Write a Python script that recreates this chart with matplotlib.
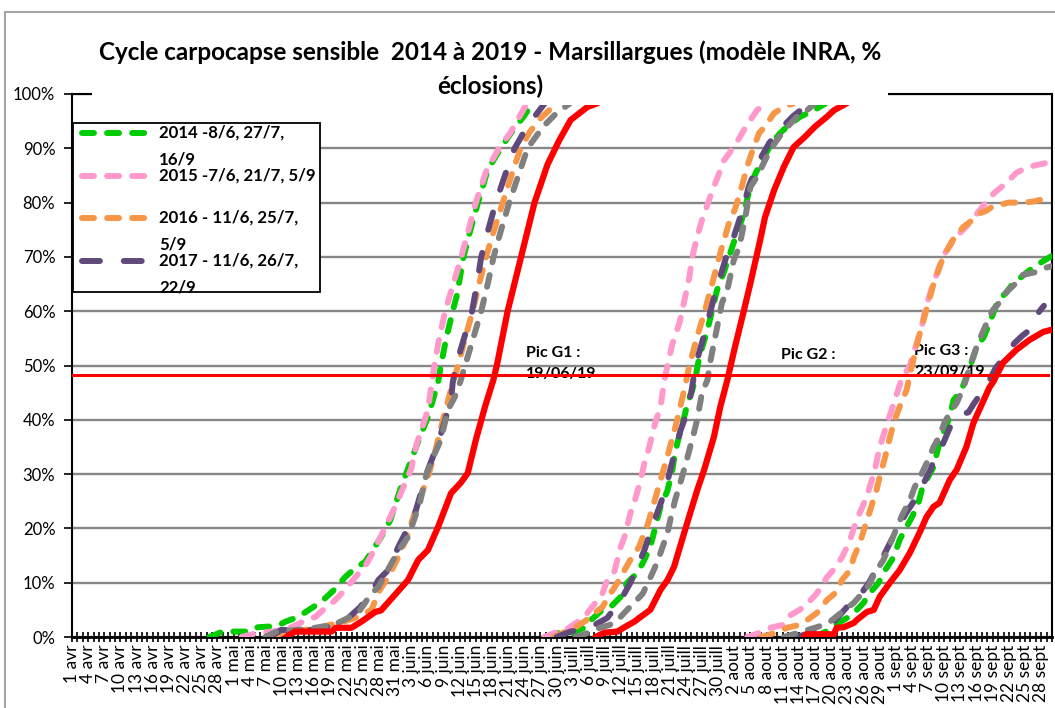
import numpy as np
import pandas as pd
import matplotlib
matplotlib.use('Agg')
import matplotlib.pyplot as plt
from matplotlib.lines import Line2D
from matplotlib.patches import Rectangle

plt.rcParams['font.family'] = ['Lato', 'DejaVu Sans']

# (jour depuis le 1er avril, % eclosions) pour G1, G2, G3
courbe_2014 = [
    [(25.5, 0), (28, 1), (33, 1), (34.5, 1.8), (38, 2), (39.6, 2.8), (42, 3.7), (44, 5), (46.3, 6.5),
     (48.5, 8.5), (50.7, 11), (52.6, 12.7), (54.4, 13.8), (57.4, 18.4), (59.1, 21.5), (61.1, 27.6),
     (62.4, 31), (64.3, 36), (66.1, 40.5), (68, 47), (68.6, 50.5), (69.5, 55), (70.7, 60), (71.5, 63),
     (72.7, 70), (74, 75), (75.4, 80), (77.2, 86), (79.6, 90), (82, 93.5), (84, 96), (85.5, 98.3)],
    [(88.3, 0), (90, 0.7), (92.6, 0.7), (95.2, 1.7), (96, 2.8), (98.5, 5), (100, 5.5), (101.9, 7.4),
     (103.1, 10), (105, 11.8), (106.3, 14.2), (107.4, 16.6), (108.1, 19.3), (109.3, 24), (110.6, 27),
     (111.5, 30.8), (112, 34), (113, 38), (113.7, 40.5), (114.3, 43), (115.2, 45.5), (115.7, 47.3),
     (116.5, 51.6), (118, 56.5), (119.8, 63.9), (121, 67), (122, 70), (123.5, 74.4), (124.8, 78),
     (125.9, 82.9), (127, 85.5), (128.5, 88.4), (130, 91), (131.5, 92.8), (132.8, 94), (135.2, 95.8),
     (137.8, 97), (140, 98.3)],
    [(138, 0), (140, 1), (141.1, 1.8), (143.9, 3.5), (145.2, 4.4), (147, 6.3), (148.1, 8), (149.8, 10),
     (151, 12.3), (152.6, 14.7), (153.7, 17.9), (155, 20.3), (156, 22.1), (157.2, 24.7), (157.8, 27),
     (159, 29.5), (160, 31.3), (160.9, 35), (161.8, 37.6), (163, 40.5), (163.7, 43.6), (165.2, 45.5),
     (166.5, 49), (168, 53.4), (169.3, 55.2), (170.4, 57.8), (171.3, 60.2), (172, 62), (173.5, 63.4),
     (174.8, 65.2), (176.3, 66.3), (178.5, 68.1), (182, 70.2)],
]
courbe_2015 = [
    [(31.5, 0), (34.3, 0.7), (37, 1), (39, 1.2), (40.7, 1.8), (43.3, 3), (45.2, 3.7), (47, 5.3),
     (48.9, 6.8), (50.7, 8.7), (52.6, 11), (54.4, 13), (55.4, 14.7), (58.1, 20), (60, 24), (61.5, 27.5),
     (63, 31), (64, 35.5), (66.1, 41.8), (66.7, 46), (67.3, 50), (68, 54), (69.3, 60), (70.8, 65),
     (72.3, 70), (75, 80), (77, 86), (79.3, 90), (81.5, 93), (84.5, 98.3)],
    [(87.7, 0), (90.2, 1), (91.7, 1.3), (93.9, 2.8), (95.7, 4.4), (97.6, 6.8), (98.5, 8), (99.4, 10.5),
     (100.7, 12), (101.9, 16.6), (102.6, 18.4), (103.7, 22.8), (104.4, 24.7), (105.6, 28.9), (106.3, 32),
     (107.2, 35), (108.3, 39.4), (109.3, 42.4), (110, 47.3), (110.6, 50), (111.5, 54), (112.8, 57.8),
     (113.3, 60), (114.6, 66), (115.2, 70), (116.1, 73.7), (117, 76.8), (118.5, 81), (119.2, 82.9),
     (121.1, 87.8), (122, 89), (124, 92), (124.8, 93.4), (127.2, 97), (129, 98.3)],
    [(125.4, 0), (127.5, 0.7), (129.7, 1.7), (131.9, 2.2), (133.4, 4), (135.6, 5.3), (136.8, 6.4),
     (138.3, 8), (140.2, 11), (141.7, 12.7), (143, 14.7), (144.3, 17.3), (145.7, 21.5), (147.6, 25.8),
     (149.1, 30.8), (150, 35), (151, 38.1), (152.8, 43.6), (154, 47.3), (155.6, 50), (156.5, 53),
     (157.8, 57), (158.5, 60.5), (159.6, 64), (161, 68), (162, 70.5), (164, 73.5), (166, 75.5),
     (168.5, 78.5), (170.5, 81), (171.3, 81.8), (173.5, 83.6), (175.4, 85.5), (177.2, 86.4),
     (179, 86.9), (182, 87.5)],
]
courbe_2016 = [
    [(37, 0), (40, 1), (45, 1.5), (49, 2.5), (51.3, 3.1), (53.1, 3.7), (55.6, 5), (57.2, 8.7), (58.7, 11),
     (60.6, 14.7), (62, 17.9), (63.2, 21.5), (64.3, 24.7), (66.1, 29.5), (67.4, 34), (68.3, 37.6),
     (69.2, 41.2), (70.2, 44.9), (71.7, 50), (73, 55), (74.4, 60), (75.6, 65), (76.9, 70), (78.4, 75),
     (80, 80), (81.6, 85), (83.3, 90), (85, 93), (87, 95.5), (90, 98.3)],
    [(89.5, 0), (91.7, 1), (93.5, 1.8), (95.4, 3), (97, 4.4), (98.5, 5.5), (100, 8), (101.3, 10),
     (102.6, 12.3), (103.7, 14.2), (105.3, 16.6), (107, 21), (109.3, 28.9), (110.5, 33), (112.4, 40),
     (113.7, 45.5), (114.6, 49.7), (116, 55), (117.4, 59.6), (119, 65.5), (120.7, 71.8), (122, 76.2),
     (123.2, 79), (124.4, 83), (125.5, 87), (126.6, 90.2), (127.6, 92.8), (128.7, 94), (130.4, 96.5),
     (132.2, 97.6), (134, 98.3)],
    [(128, 0), (130.4, 0.7), (132.8, 1.7), (135, 2.2), (136.5, 3.1), (138.3, 4.4), (140.2, 6.8), (142, 8.3),
     (143, 10.5), (144.5, 12.3), (145.2, 14.7), (146.3, 17.3), (147.8, 22), (149.4, 27), (150, 29.5),
     (151, 33.1), (151.9, 36.8), (152.8, 40), (153.7, 42.4), (155, 45.5), (156, 50), (157.2, 55),
     (158.6, 60), (160, 65), (161.8, 70), (163.5, 73), (165.5, 75.5), (167.5, 77), (168.5, 78),
     (169.8, 78.5), (171, 79.3), (172, 79.5), (173.9, 80), (176.7, 80), (178.5, 80.2), (182, 81)],
]
courbe_2017 = [
    [(36.8, 0), (38.8, 1.3), (45, 1.3), (48, 2), (51.3, 3.5), (53.5, 5.5), (55.5, 8), (56.9, 10.5),
     (58.7, 12.3), (60.6, 16.6), (62, 19.3), (63.7, 22.8), (64.8, 26.5), (66.1, 30.8), (68, 35.7),
     (68.9, 38.7), (70.4, 43.6), (70.7, 46.8), (71.3, 50), (72.8, 55), (74.3, 60), (75.2, 65), (76, 70),
     (77.3, 75), (78.7, 80), (80.4, 85), (82.2, 90), (84.5, 94), (87.8, 98.3)],
    [(90, 0), (92.6, 1), (95, 1.5), (97, 2.2), (99.4, 3.5), (101.9, 6.8), (103.7, 10), (105, 12.9),
     (106.3, 16), (108, 21), (110.2, 27), (111.1, 30.8), (113, 38), (113.9, 40.5), (115, 45), (115.8, 50),
     (117.5, 56), (119.5, 63.5), (121.5, 70), (123, 74), (124.5, 78.5), (125.7, 83), (127.5, 87.5),
     (129.5, 91), (131.5, 93.5), (134, 96), (137, 98.3)],
    [(134.6, 0), (136.9, 0.7), (139.6, 2.2), (141.5, 2.8), (143.9, 5.5), (145.7, 6.8), (148, 10),
     (150, 13.6), (151, 15.5), (153, 19.5), (155, 23), (156.9, 25.8), (157.8, 27.6), (159.5, 31),
     (160.6, 33.9), (161.8, 35.7), (163, 38.5), (164, 40.5), (166.5, 41.4), (167.5, 43), (168.9, 45),
     (170.4, 47.3), (171.5, 49.5), (173.2, 51.6), (175, 54.1), (176.5, 55.5), (177.8, 56.5),
     (179.6, 59.9), (180.5, 61)],
]
courbe_2018 = [
    [(35.9, 0), (38, 1), (44, 1.5), (47, 2), (49.4, 2.6), (53.1, 4.4), (55.6, 8), (56.9, 9.2), (59, 13),
     (61.1, 16.6), (62.4, 18.4), (63.5, 21.5), (64.6, 24.7), (65.7, 29.5), (67, 33), (68.5, 36.3),
     (69.8, 41.8), (71.1, 44.2), (72.2, 47.3), (73, 50), (74.5, 55), (76, 60), (77.2, 65), (78.3, 70),
     (79.7, 75), (81.2, 80), (82.9, 85), (84.6, 90), (87.5, 94), (90, 96.5), (92.5, 98.3)],
    [(93.5, 0), (95.7, 0.7), (98, 1.7), (99.8, 2.2), (101.3, 3.1), (103.1, 5), (104.4, 6.3), (106, 8),
     (107.2, 10.5), (108.3, 12.9), (109.3, 15.5), (110.6, 19.2), (111.1, 21.5), (112, 25.2),
     (113.3, 29.5), (114.3, 33.1), (115.5, 37.6), (116.1, 40), (117, 45), (118, 47.3), (118.5, 50.5),
     (119.6, 56), (120.7, 61.5), (121.7, 63.9), (122.9, 69.4), (123.9, 71.8), (125, 77), (126, 82.9),
     (127.2, 84.7), (129, 88.4), (130, 90.2), (132, 93), (134.6, 95.8), (136.5, 97), (138, 98.3)],
    [(132.2, 0), (134.6, 0.7), (138.3, 1.8), (140.5, 2.6), (142, 3.8), (143.5, 5), (145.2, 6.3),
     (146.7, 8), (148, 9.6), (149.1, 11.8), (150.7, 14.2), (151.7, 16.6), (152.8, 19.2), (154.2, 22.5),
     (155.6, 25.2), (156.5, 27.6), (158, 30.5), (159, 32.6), (160, 35), (161, 36.8), (162, 39.4),
     (163, 41.2), (164.3, 43.1), (165.6, 46), (167, 50.5), (168.2, 54), (169.3, 56.5), (170.4, 59),
     (171, 60.2), (172.6, 62), (173.5, 63.5), (175.9, 65.7), (176.6, 66.7), (179, 67.2), (180.4, 67.9),
     (182, 68.3)],
]
courbe_2019 = [
    [(39.8, 0), (41.4, 1), (48.2, 1), (49, 1.7), (51.9, 1.7), (53.7, 2.8), (56.3, 4.6), (57.4, 4.9),
     (60, 7.8), (62.4, 10.5), (64.3, 14.2), (66.1, 16), (68, 20.3), (70.4, 26.5), (72.2, 28.4),
     (73.5, 30.2), (75, 36.3), (76.7, 42.4), (78.3, 47.5), (79, 50.5), (80.9, 60), (83.4, 70),
     (85.9, 80), (88.3, 87), (90.5, 91.5), (92.6, 95.2), (95.7, 97.6), (97.6, 98.3)],
    [(97.2, 0), (98.9, 0.8), (101.3, 1), (102.6, 1.8), (104.4, 2.8), (105.6, 3.7), (107.4, 5),
     (109.3, 8.7), (110.6, 10.5), (111.8, 12.9), (113.7, 19.2), (114.8, 22.8), (116.1, 27),
     (117.4, 30.8), (119.2, 36.8), (120.4, 42.4), (121.7, 47.3), (123, 52.9), (124.8, 60.2),
     (126, 65.2), (127.8, 73.1), (128.7, 77.3), (130.4, 82.3), (132.2, 86.6), (134, 90.2), (136, 92),
     (138, 94), (140.2, 95.8), (141.5, 97), (143.9, 98.3)],
    [(135.9, 0), (136.5, 0.5), (141.5, 0.5), (142, 1.7), (143.3, 1.8), (145.2, 2.6), (145.7, 3.1),
     (147.6, 4.6), (148.9, 5), (150, 7.4), (151.9, 10), (153.7, 12.3), (155.6, 15.5), (157.4, 19.2),
     (158.7, 22.1), (160, 24), (161.1, 24.7), (163, 28.9), (164.3, 30.8), (166.1, 35), (167.4, 39.4),
     (169.3, 43.6), (170.4, 46), (171.1, 47), (172.9, 50.5), (175.4, 52.9), (177.8, 54.7),
     (180.4, 56.2), (182, 56.6)],
]

legendes = ['2014 -8/6, 27/7,\n16/9', '2015 -7/6, 21/7, 5/9', '2016 - 11/6, 25/7,\n5/9',
            '2017 - 11/6, 26/7,\n22/9']
mois = {4: 'avr', 5: 'mai', 6: 'juin', 7: 'juill', 8: 'aout', 9: 'sept'}
dates = pd.date_range('2019-04-01', '2019-09-30')
seuil = 48.3


def trace(gens):
    xs, ys = [], []
    for g in gens:
        d, p = zip(*g)
        xs += list(d) + [np.nan]
        ys += list(p) + [np.nan]
    return xs, ys


W, H = 1055, 708
fig = plt.figure(figsize=(W / 100, H / 100), dpi=100)
ax = fig.add_axes([72 / W, 1 - 637 / H, 980 / W, 543 / H])

styles = [
    (courbe_2014, '#00CC00', (2.0, 2.2)),
    (courbe_2015, '#FF99CC', (2.0, 2.2)),
    (courbe_2016, '#F79646', (2.0, 2.2)),
    (courbe_2017, '#604A7B', (3.0, 4.0)),
    (courbe_2018, '#808080', (2.0, 2.2)),
]
for gens, col, dash in styles:
    x, y = trace(gens)
    ax.plot(x, y, color=col, lw=4.3, dashes=dash, dash_capstyle='round', solid_capstyle='round', zorder=3)
x, y = trace(courbe_2019)
ax.plot(x, y, color='#FF0000', lw=4.5, solid_capstyle='round', solid_joinstyle='round', zorder=3)

ax.axhline(seuil, xmin=0, xmax=0.996, color='#FF0000', lw=2.2, zorder=4)

ax.text(84.3, 50.4, 'Pic G1 :\n19/06/19', fontsize=11.5, fontweight='bold', va='center', linespacing=1.65, zorder=2)
ax.text(131.7, 51.9, 'Pic G2 :', fontsize=11.5, fontweight='bold', va='center', zorder=2)
ax.text(156.4, 50.7, 'Pic G3 :\n23/09/19', fontsize=11.5, fontweight='bold', va='center', linespacing=1.65, zorder=2)

ax.set_xlim(0, 182)
ax.set_ylim(0, 100)
ax.set_yticks(range(0, 101, 10))
ax.set_yticklabels([f'{v}%' for v in range(0, 101, 10)], fontsize=12)
ax.set_xticks(range(0, 181, 3))
ax.set_xticklabels([f'{d.day} {mois[d.month]}' for d in dates[::3]], rotation=90, fontsize=12.5)
ax.set_xticks(range(0, 183), minor=True)
ax.tick_params(axis='x', which='both', direction='inout', length=7, width=1.2, pad=2)
ax.tick_params(axis='y', direction='out', length=6, width=1.2, pad=6)
ax.yaxis.grid(True, color='#878787', lw=1.7)
ax.set_axisbelow(True)
for s in ax.spines.values():
    s.set_linewidth(1.5)
ax.spines['bottom'].set_linewidth(2)

# legende (coupee comme dans l'original)
fig.add_artist(Rectangle((73 / W, 1 - 292 / H), 247 / W, 169 / H, transform=fig.transFigure,
                         fc='white', ec='black', lw=1.3, zorder=5))
ys_leg = [133, 176, 218, 261]
for (gens, col, dash), lab, yl in zip(styles, legendes, ys_leg):
    fig.add_artist(Line2D([82 / W, 153 / W], [1 - yl / H, 1 - yl / H], transform=fig.transFigure,
                          color=col, lw=4.3, dashes=dash, dash_capstyle='round', zorder=6))
    fig.text(159 / W, 1 - (yl - 8) / H, lab, fontsize=12.1, fontweight='bold', va='top',
             linespacing=1.8, zorder=6)

fig.text(490 / W, 1 - 69 / H, 'Cycle carpocapse sensible  2014 à 2019 - Marsillargues (modèle INRA, %\néclosions)',
         ha='center', va='center', fontsize=17.5, fontweight='bold', linespacing=1.56, zorder=7,
         bbox=dict(fc='white', ec='none', pad=5))

fig.add_artist(Rectangle((5 / W, -0.1), 1.2, 1.1 - 12 / H, transform=fig.transFigure,
                         fill=False, ec='#a6a6a6', lw=1.5))

fig.savefig('out.png', dpi=100)
